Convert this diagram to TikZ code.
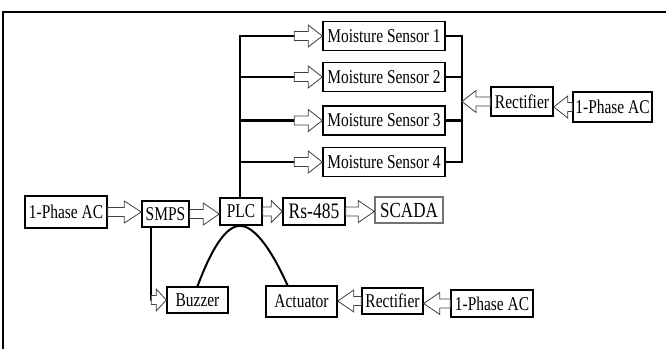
\documentclass[tikz,border=0pt]{standalone}
\usepackage{fontspec}
\usepackage{graphicx}
\setmainfont{Liberation Serif}
\usetikzlibrary{calc}
\newcommand\tallt[1]{\scalebox{1.03}[1.3]{#1}}
\tikzset{
  box/.style={draw, line width=1.5pt, inner sep=0pt, font=\fontsize{15}{18}\selectfont},
  conn/.style={line width=2.4pt, line cap=round, line join=round},
  curveconn/.style={line width=2pt},
  hollow/.style={draw=black!75, fill=white, line width=0.8pt, line join=miter},
}
\newcommand\harrow[3][14]{%
  \draw[hollow] let \p1=#2, \p2=#3, \n1={sign(\x2-\x1)}, \n2={\x2-\n1*#1} in
  (\x1,{\y1+4.5pt}) -- ({\n2*1pt},{\y1+4.5pt}) -- ({\n2*1pt},{\y1+11pt}) -- (\x2,\y1)
  -- ({\n2*1pt},{\y1-11pt}) -- ({\n2*1pt},{\y1-4.5pt}) -- (\x1,{\y1-4.5pt}) -- cycle;}
\begin{document}
\begin{tikzpicture}[x=1pt,y=-1pt]
\useasboundingbox (0,0) rectangle (666,349);
\draw[line width=2pt] (3,349) -- (3,12) -- (666,12);
% sensors
\node[box, minimum width=122pt, minimum height=29pt] (ms1) at (384,36) {\tallt{Moisture Sensor 1}};
\node[box, minimum width=122pt, minimum height=29pt] (ms2) at (384,77) {\tallt{Moisture Sensor 2}};
\node[box, minimum width=122pt, minimum height=29pt] (ms3) at (384,120.5) {\tallt{Moisture Sensor 3}};
\node[box, minimum width=122pt, minimum height=29pt] (ms4) at (384,162) {\tallt{Moisture Sensor 4}};
% right power
\node[box, minimum width=62pt, minimum height=29pt] (rec1) at (522,101.5) {\tallt{Rectifier}};
\node[box, minimum width=79pt, minimum height=30pt] (ac2) at (612.5,107) {\tallt{1-Phase AC}};
% middle row
\node[box, minimum width=82pt, minimum height=32pt] (ac1) at (66,212) {\tallt{1-Phase AC}};
\node[box, minimum width=47pt, minimum height=26pt] (smps) at (165.5,214) {\tallt{SMPS}};
\node[box, minimum width=42pt, minimum height=27pt] (plc) at (241,211.5) {\tallt{PLC}};
\node[box, minimum width=62pt, minimum height=27pt, font=\fontsize{17}{20}\selectfont] (rs) at (314,211.5) {\tallt{Rs-485}};
\node[box, draw=black!55, minimum width=68pt, minimum height=26pt, font=\fontsize{16.5}{20}\selectfont] (scada) at (409,210) {\tallt{SCADA}};
% bottom row
\node[box, minimum width=61pt, minimum height=26pt] (buz) at (197.5,300) {\tallt{Buzzer}};
\node[box, minimum width=71pt, minimum height=31pt] (act) at (301.5,301.5) {\tallt{Actuator}};
\node[box, minimum width=61pt, minimum height=26pt] (rec2) at (392.5,301) {\tallt{Rectifier}};
\node[box, minimum width=82pt, minimum height=27pt] (ac3) at (492,303.5) {\tallt{1-Phase AC}};
% left bus
\coordinate (lb) at ($(plc.north)+(-1,0)$);
\foreach \i in {1,2,3,4}{
  \coordinate (b\i) at (lb |- ms\i.west);
  \coordinate (a\i) at ($(ms\i.west)+(-28,0)$);
  \draw[conn] (b\i) -- (a\i);
}
\draw[conn] (lb) -- (b1);
\foreach \i in {1,2,3,4}{ \harrow{(a\i)}{(ms\i.west)} }
% right bus
\coordinate (rbx) at (462,0);
\foreach \i in {1,2,3,4}{
  \coordinate (r\i) at (rbx |- ms\i.east);
  \draw[conn] (ms\i.east) -- (r\i);
}
\draw[conn] (r1) -- (r4);
\coordinate (rin) at (rbx |- rec1.west);
\harrow{(rec1.west)}{(rin)}
\harrow{(ac2.west)}{(rec1.east)}
% middle row arrows
\harrow[17]{(ac1.east)}{(smps.west)}
\harrow[16]{(smps.east)}{(plc.west)}
\harrow[11]{(plc.east)}{(rs.west)}
\harrow[16]{(rs.east)}{(scada.west)}
% SMPS to buzzer
\coordinate (sd) at ($(smps.south west)+(10,0)$);
\coordinate (sb) at (sd |- buz.west);
\draw[conn] (sd) -- (sb);
\harrow[10]{(sb)}{(buz.west)}
% bottom arrows
\harrow[16]{(ac3.west)}{(rec2.east)}
\harrow[16]{(rec2.west)}{(act.east)}
% curves
\coordinate (pb) at ($(plc.south)+(-1,0)$);
\coordinate (at) at ($(act.north)+(-14,0)$);
\draw[curveconn] (buz.north) .. controls (214,242) and (228,226) .. (pb)
  .. controls (252,226) and (268,242) .. (at);
\end{tikzpicture}
\end{document}
